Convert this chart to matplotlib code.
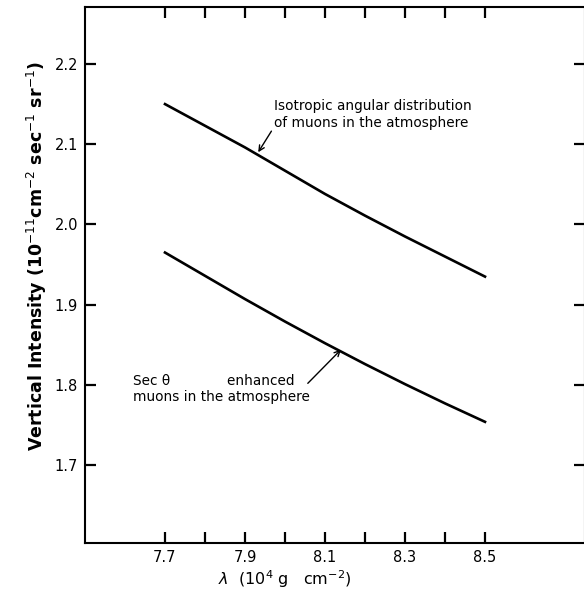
import matplotlib
matplotlib.use("Agg")
import matplotlib.pyplot as plt
import numpy as np

lam = [7.7, 7.8, 7.9, 8.0, 8.1, 8.2, 8.3, 8.4, 8.5]
isotropic = [2.150, 2.123, 2.096, 2.067, 2.038, 2.011, 1.985, 1.960, 1.935]
sec_theta = [1.965, 1.936, 1.907, 1.879, 1.852, 1.826, 1.801, 1.777, 1.754]
xticks = [7.7, 7.8, 7.9, 8.0, 8.1, 8.2, 8.3, 8.4, 8.5]
xticklabels = ["7.7", "", "7.9", "", "8.1", "", "8.3", "", "8.5"]
yticks = [1.7, 1.8, 1.9, 2.0, 2.1, 2.2]
yticklabels = ["1.7", "1.8", "1.9", "2.0", "2.1", "2.2"]

plt.rcParams['font.family'] = ['DejaVu Sans']
fig = plt.figure(figsize=(5.84, 5.96), dpi=100)
ax = fig.add_axes([85/584, 53/596, 500/584, 536/596])

ax.plot(lam, isotropic, color='black', lw=1.9)
ax.plot(lam, sec_theta, color='black', lw=1.9)

ax.set_xlim(7.5, 8.75)
ax.set_ylim(1.603, 2.271)
ax.set_xticks(xticks)
ax.set_xticklabels(xticklabels, fontsize=10.5)
ax.set_yticks(yticks)
ax.set_yticklabels(yticklabels, fontsize=10.5)
ax.tick_params(direction='in', length=8, width=1.6, top=True, right=True, pad=5)
for s in ax.spines.values():
    s.set_linewidth(1.5)

ax.set_ylabel(r"Vertical Intensity (10$^{-11}$cm$^{-2}$ sec$^{-1}$ sr$^{-1}$)",
              fontsize=12.5, fontweight='bold')
ax.yaxis.set_label_coords(-0.072, 0.535)
ax.set_xlabel(r"$\lambda$  (10$^4$ g   cm$^{-2}$)", fontsize=11.5)
ax.xaxis.set_label_coords(0.40, -0.048)

ax.annotate("Isotropic angular distribution\nof muons in the atmosphere",
            xy=(7.933, 2.090), xytext=(7.973, 2.118),
            fontsize=9.8, ha='left', va='bottom', linespacing=1.25,
            arrowprops=dict(arrowstyle='->', color='black', lw=1.0,
                            shrinkA=0, shrinkB=0, relpos=(0, 0.1)))
ax.annotate("", xy=(8.14, 1.844), xytext=(8.057, 1.802),
            arrowprops=dict(arrowstyle='->', color='black', lw=1.0,
                            shrinkA=0, shrinkB=0))
ax.text(7.62, 1.795, "Sec \u03b8             enhanced\nmuons in the atmosphere",
        fontsize=9.8, ha='left', va='center', linespacing=1.2)

fig.savefig("out.png", dpi=100)
